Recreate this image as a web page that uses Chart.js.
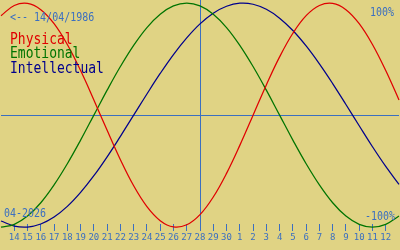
<!DOCTYPE html>
<html>
<head>
<meta charset="utf-8">
<script src="https://cdn.jsdelivr.net/npm/chart.js@4"></script>
<style>
  html, body { margin: 0; padding: 0; background: #e0d384; }
  #wrap { width: 400px; height: 250px; position: relative; }
  canvas { display: block; }
</style>
</head>
<body>
<div id="wrap"><canvas id="c" width="400" height="250"></canvas></div>
<script>
// ---- data ----
const dayLabels = ['13','14','15','16','17','18','19','20','21','22','23','24','25','26','27','28','29','30',
                   '1','2','3','4','5','6','7','8','9','10','11','12','13'];
const physical = [0.888, 0.979, 0.998, 0.942, 0.817, 0.631, 0.398, 0.136, -0.136, -0.398, -0.631,
                  -0.817, -0.942, -0.998, -0.979, -0.888, -0.731, -0.520, -0.270, 0.000, 0.270,
                  0.520, 0.731, 0.888, 0.979, 0.998, 0.942, 0.817, 0.631, 0.398, 0.136];
const emotional = [-1.000, -0.975, -0.901, -0.782, -0.623, -0.434, -0.223, 0.000, 0.223, 0.434, 0.623,
                   0.782, 0.901, 0.975, 1.000, 0.975, 0.901, 0.782, 0.623, 0.434, 0.223,
                   0.000, -0.223, -0.434, -0.623, -0.782, -0.901, -0.975, -1.000, -0.975, -0.901];
const intellectual = [-0.945, -0.990, -0.999, -0.972, -0.910, -0.815, -0.690, -0.541, -0.372, -0.189, 0.000,
                      0.189, 0.372, 0.541, 0.690, 0.815, 0.910, 0.972, 0.999, 0.990, 0.945,
                      0.866, 0.756, 0.618, 0.458, 0.282, 0.095, -0.095, -0.282, -0.458, -0.618];
const seriesNames = ['Physical', 'Emotional', 'Intellectual'];
const todayIndex = 15;
const birthText = '<-- 14/04/1986';
const monthText = '04-2026';
const topText = '100%';
const bottomText = '-100%';

// ---- styles ----
const BLUE = '#3b6fc0';
const RED = '#e00000';
const GREEN = '#007400';
const NAVY = '#00008c';
const MONO = '"DejaVu Sans Mono", "Liberation Mono", monospace';

const overlay = {
  id: 'overlay',
  afterDraw(chart) {
    const c = chart.ctx;
    const items = [
      { t: birthText, x: 10, y: 20.5, s: 10, col: BLUE, a: 'left' },
      { t: seriesNames[0], x: 10, y: 43.5, s: 13, col: RED, a: 'left' },
      { t: seriesNames[1], x: 10, y: 58.2, s: 13, col: GREEN, a: 'left' },
      { t: seriesNames[2], x: 10, y: 72.8, s: 13, col: NAVY, a: 'left' },
      { t: topText, x: 394, y: 16, s: 10, col: BLUE, a: 'right' },
      { t: bottomText, x: 395, y: 219.5, s: 10, col: BLUE, a: 'right' },
      { t: monthText, x: 4, y: 216.5, s: 10, col: BLUE, a: 'left' }
    ];
    items.forEach(it => {
      c.save();
      c.translate(it.x, it.y);
      c.scale(1, 1.15);
      c.font = it.s + 'px ' + MONO;
      c.fillStyle = it.col;
      c.textAlign = it.a;
      c.textBaseline = 'alphabetic';
      c.fillText(it.t, 0, 0);
      c.restore();
    });
  }
};

const lastIdx = dayLabels.length - 1;

new Chart(document.getElementById('c'), {
  type: 'line',
  data: {
    labels: dayLabels,
    datasets: [
      { label: seriesNames[0], data: physical, borderColor: RED },
      { label: seriesNames[1], data: emotional, borderColor: GREEN },
      { label: seriesNames[2], data: intellectual, borderColor: NAVY }
    ].map(d => Object.assign(d, { borderWidth: 1.25, pointRadius: 0, tension: 0.4, fill: false, clip: false }))
  },
  options: {
    responsive: false,
    animation: false,
    devicePixelRatio: 1,
    layout: { padding: 0 },
    plugins: { legend: { display: false }, tooltip: { enabled: false } },
    scales: {
      x: {
        type: 'category',
        offset: false,
        border: { display: false },
        grid: {
          drawOnChartArea: true,
          tickLength: 7,
          lineWidth: 1,
          color: ctx => ctx.index === todayIndex ? BLUE : 'rgba(0,0,0,0)',
          tickColor: ctx => (ctx.index === 0 || ctx.index === lastIdx) ? 'rgba(0,0,0,0)' : BLUE
        },
        ticks: {
          autoSkip: false,
          maxRotation: 0,
          minRotation: 0,
          padding: 1,
          color: BLUE,
          font: { family: MONO, size: 9 },
          callback: (v, i) => (i === 0 || i === lastIdx) ? '' : dayLabels[i]
        },
        afterFit: s => { s.height = 26; }
      },
      y: {
        min: -0.972,
        max: 1.028,
        border: { display: false },
        grid: { color: BLUE, lineWidth: 1, drawTicks: false },
        ticks: { display: false },
        afterBuildTicks: s => { s.ticks = [{ value: 0 }]; },
        afterFit: s => { s.width = 0; }
      }
    }
  },
  plugins: [overlay]
});
</script>
</body>
</html>
